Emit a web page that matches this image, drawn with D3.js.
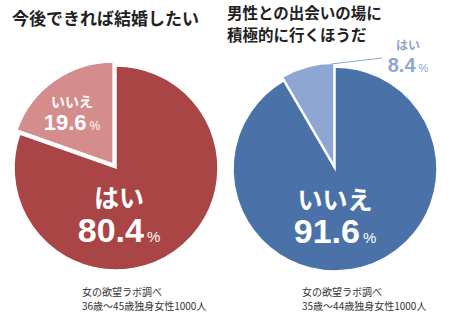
<!DOCTYPE html>
<html><head><meta charset="utf-8">
<script src="https://cdn.jsdelivr.net/npm/d3@7"></script>
<style>
body{margin:0;background:#fff;}
svg{display:block;}
text{font-family:"Liberation Sans","Noto Sans CJK JP",sans-serif;}
.jp{font-family:"Noto Sans CJK JP",sans-serif;}
</style></head><body>
<script>
const leftTitle = ["今後できれば結婚したい"];
const rightTitle = ["男性との出会いの場に", "積極的に行くほうだ"];
const leftLabels = ["はい", "いいえ"];
const leftValues = [80.4, 19.6];
const rightLabels = ["いいえ", "はい"];
const rightValues = [91.6, 8.4];
const leftNote = ["女の欲望ラボ調べ", "36歳～45歳独身女性1000人"];
const rightNote = ["女の欲望ラボ調べ", "35歳～44歳独身女性1000人"];

const W = 450, H = 323;
const svg = d3.select("body").append("svg").attr("width", W).attr("height", H);

function pieChart(cfg) {
  const g = svg.append("g").attr("transform", `translate(${cfg.cx},${cfg.cy})`);
  const pie = d3.pie().sort(null).value(d => d.v);
  const data = pie(cfg.labels.map((l, i) => ({l, v: cfg.values[i]})));
  const arc = d3.arc().innerRadius(0).outerRadius(cfg.r);
  data.forEach((d, i) => {
    const mid = (d.startAngle + d.endAngle) / 2;
    const off = i === 1 ? cfg.explode : 0;
    g.append("path")
      .attr("d", arc(d))
      .attr("transform", `translate(${Math.sin(mid) * off},${-Math.cos(mid) * off})`)
      .attr("fill", cfg.colors[i])
      .attr("stroke", "#fff").attr("stroke-width", 1.5).attr("stroke-linejoin", "miter");
  });
  return {g, data, arc};
}

function valLabel(g, x, y, name, val, nameSize, numSize, pctSize, color, dy) {
  g.append("text").attr("class", "jp").attr("x", x).attr("y", y)
    .attr("text-anchor", "middle").attr("font-size", nameSize).attr("font-weight", "bold")
    .attr("fill", color).text(name);
  const t = g.append("text").attr("x", x).attr("y", y + dy)
    .attr("text-anchor", "middle").attr("fill", color);
  t.append("tspan").attr("font-size", numSize).attr("font-weight", "bold").text(val.toFixed(1));
  t.append("tspan").attr("font-size", pctSize).attr("dx", 3).text("%");
}

// Left pie
const L = pieChart({cx: 116, cy: 168, r: 102, labels: leftLabels, values: leftValues,
  colors: ["#a94545", "#d48c8c"], explode: 5});
valLabel(L.g, 3, 39, leftLabels[0], leftValues[0], 25, 34, 15, "#fff", 35);
valLabel(L.g, -44, -61, leftLabels[1], leftValues[1], 14, 22, 12, "#fff", 23);

// Right pie
const R = pieChart({cx: 335, cy: 169, r: 102, labels: rightLabels, values: rightValues,
  colors: ["#4a72a8", "#8ea6d2"], explode: 4});
valLabel(R.g, 0, 40, rightLabels[0], rightValues[0], 25, 34, 15, "#fff", 34);
svg.append("line").attr("x1", 331).attr("y1", 64).attr("x2", 382).attr("y2", 58)
  .attr("stroke", "#8ea6d2").attr("stroke-width", 1.2);
valLabel(svg.append("g"), 408, 50, rightLabels[1], rightValues[1], 12, 20, 11, "#8ea6d2", 22);

// Titles
svg.append("text").attr("class", "jp").attr("x", 12).attr("y", 25)
  .attr("font-size", 17).attr("font-weight", "bold").attr("fill", "#222").text(leftTitle[0]);
rightTitle.forEach((t, i) => {
  svg.append("text").attr("class", "jp").attr("x", 227).attr("y", 19 + i * 22)
    .attr("font-size", 15.5).attr("font-weight", "bold").attr("fill", "#222").text(t);
});
// Notes
[[82, leftNote], [302, rightNote]].forEach(([x, note]) => {
  note.forEach((t, i) => {
    svg.append("text").attr("class", "jp").attr("x", x).attr("y", 296 + i * 13.5)
      .attr("font-size", 10).attr("fill", "#333").text(t);
  });
});
</script>
</body></html>
